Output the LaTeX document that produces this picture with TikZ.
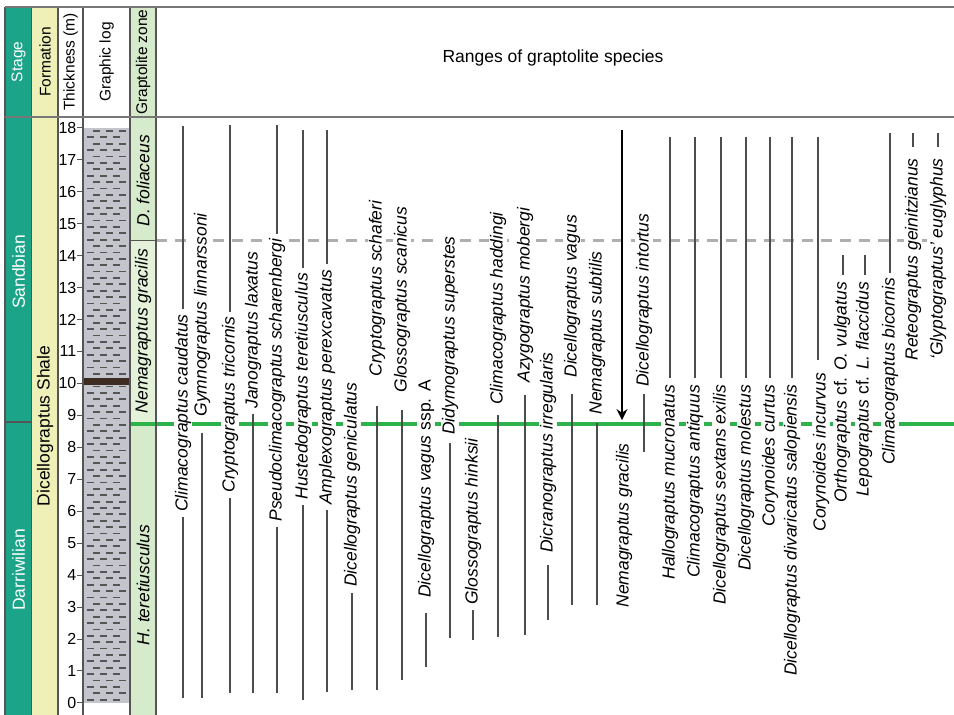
\documentclass[tikz,border=0pt]{standalone}
\usepackage{fontspec}
\setmainfont{Liberation Sans}
\usetikzlibrary{arrows.meta}
\definecolor{stagegreen}{HTML}{1BA488}
\definecolor{fmyellow}{HTML}{EEF0B8}
\definecolor{zonegreen}{HTML}{D6EBCB}
\definecolor{zonepale}{HTML}{E4F2D9}
\definecolor{loggrey}{HTML}{C4C4CC}
\definecolor{bandbrown}{HTML}{3E2C22}
\definecolor{bndgreen}{HTML}{2DB34A}
\definecolor{bndgrey}{HTML}{AFAFAF}
\definecolor{border}{HTML}{555555}
\definecolor{rangeline}{HTML}{4D4D4D}
\begin{document}
\begin{tikzpicture}[x=1pt, y=31.95pt,
    frm/.style={draw=border, line width=1.3pt},
    hd/.style={rotate=90, inner sep=1pt, font=\fontsize{15.5}{18}\selectfont},
    nm/.style={rotate=90, inner sep=1pt, font=\fontsize{17.5}{20}\selectfont},
    lbl/.style={rotate=90, fill=white, inner xsep=5pt, inner ysep=1pt, font=\fontsize{17.5}{20}\selectfont\itshape},
    rng/.style={draw=rangeline, line width=1.4pt},
    logdash/.style={draw=border, line width=1.8pt}
  ]
  \useasboundingbox (0,-0.376) rectangle (954,22.0);

  % column fills
  \fill[stagegreen] (5,-0.376) rectangle (31.5,21.78);
  \fill[fmyellow] (31.5,-0.376) rectangle (58,21.78);
  \fill[zonegreen] (130,14.46) rectangle (156,21.78);
  \fill[zonepale] (130,8.73) rectangle (156,14.46);
  \fill[zonegreen] (130,-0.376) rectangle (156,8.73);

  % graphic log
  \fill[loggrey] (83,0) rectangle (130,18);
  \foreach \r in {0,...,89} {
    \pgfmathsetmacro\off{mod(\r,2)*6.5}
    \foreach \c in {90,103,116}
      \draw[logdash] ({\c+\off-3.5},{0.1+0.2*\r}) -- ++(7,0);
  }
  \fill[bandbrown] (83,9.95) rectangle (130,10.17);

  % thickness scale
  \foreach \m in {0,...,18} {
    \draw[draw=border, line width=0.9pt] (77,\m) -- (83,\m);
    \node[anchor=east, inner sep=0.5pt, font=\fontsize{16}{18}\selectfont] (t\m) at (77,\m) {\m};
  }

  % zone boundaries
  \draw[line width=4.5pt, bndgreen] (130,8.73) -- (954,8.73);
  \draw[line width=2.8pt, bndgrey, dash pattern=on 11pt off 8pt] (156,14.46) -- (954,14.46);
  \draw[draw=border, line width=0.8pt] (130,14.46) -- (156,14.46);

  % frame
  \foreach \x in {5,31.5,58,83,130,156}
    \draw[frm] (\x,-0.376) -- (\x,21.78);
  \draw[frm, draw=border!80] (5,21.78) -- (954,21.78);
  \draw[frm, draw=border!80] (5,18.34) -- (954,18.34);
  \draw[frm] (5,8.79) -- (31.5,8.79);

  % ranges
  \foreach \x/\lo/\hi in {183/0.16/18.06, 202/0.16/8.45, 230/0.31/18.09,
      253/0.31/9.08, 277/0.31/18.09, 303/0.09/17.93, 327/0.34/17.93,
      352/0.41/3.44, 377/0.41/9.30, 402/0.72/9.17, 426/1.13/2.82,
      450/2.03/8.14, 473/1.97/2.91, 498/2.07/9.01, 525/2.13/9.64,
      548/2.60/4.32, 572/3.07/9.67, 597/3.07/8.75, 644/7.85/9.67,
      670/10.17/17.72, 695/10.17/17.72, 721/10.17/17.72, 746/10.17/17.72,
      770/10.17/17.72, 792/10.17/17.72, 818/10.73/17.72, 843/13.40/14.02,
      865/13.40/14.02, 890/13.46/17.84, 913/17.40/17.84, 938/17.40/17.84}
    \draw[rng] (\x,\lo) -- (\x,\hi);

  \coordinate (ngtop) at (622,17.93);
  \coordinate (ngbase) at (622,8.85);
  \draw[-{Stealth[length=11pt,width=11pt]}, line width=2pt] (ngtop) -- (ngbase);

  % species names
  \foreach \x/\y/\a/\t [count=\i] in {
      183/5.82/west/Climacograptus caudatus,
      202/8.80/west/Gymnograptus linnarssoni,
      230/6.42/west/Cryptograptus tricornis,
      253/9.05/west/Janograptus laxatus,
      277/5.51/west/Pseudoclimacograptus scharenbergi,
      303/6.20/west/Hustedograptus teretiusculus,
      327/6.04/west/Amplexograptus perexcavatus,
      352/3.47/west/Dicellograptus geniculatus,
      377/10.05/west/Cryptograptus schaferi,
      402/9.55/west/Glossograptus scanicus,
      426/3.13/west/Dicellograptus vagus \textup{ssp. A},
      450/8.23/west/Didymograptus superstes,
      473/2.91/west/Glossograptus hinksii,
      498/9.17/west/Climacograptus haddingi,
      525/9.86/west/Azygograptus mobergi,
      548/4.54/west/Dicranograptus irregularis,
      572/10.02/west/Dicellograptus vagus,
      597/8.86/west/Nemagraptus subtilis,
      624/2.82/west/Nemagraptus gracilis,
      644/9.73/west/Dicellograptus intortus,
      670/10.11/east/Hallograptus mucronatus,
      695/10.11/east/Climacograptus antiquus,
      721/10.11/east/Dicellograptus sextans exilis,
      746/10.11/east/Dicellograptus molestus,
      770/10.11/east/Corynoides curtus,
      792/10.11/east/Dicellograptus divaricatus salopiensis,
      821/10.49/east/Corynoides incurvus,
      842/13.33/east/Orthograptus \textup{cf.} O. vulgatus,
      864/13.33/east/Lepograptus \textup{cf.} L. flaccidus,
      890/13.46/east/Climacograptus bicornis,
      913/17.21/east/Reteograptus geinitzianus,
      938/17.21/east/‘Glyptograptus’ euglyphus}
    \node[lbl, anchor=\a] (sp\i) at (\x,\y) {\t};

  % headers
  \node[hd, text=white] (hstage) at (18.5,20.06) {Stage};
  \node[hd] (hform) at (45,20.06) {Formation};
  \node[hd] (hthick) at (70.5,20.06) {Thickness (m)};
  \node[hd] (hlog) at (106.5,20.06) {Graphic log};
  \node[hd] (hzone) at (143,20.06) {Graptolite zone};
  \node[font=\fontsize{17.5}{20}\selectfont] (hrange) at (553,20.19) {Ranges of graptolite species};

  % stages, formation, zones
  \node[nm, text=white] (sandb) at (18.5,13.49) {Sandbian};
  \node[nm, text=white] (darri) at (18.5,4.16) {Darriwilian};
  \node[nm] (dshale) at (45,8.67) {Dicellograptus Shale};
  \node[nm, font=\fontsize{17.5}{20}\selectfont\itshape] (zfol) at (143,16.34) {D. foliaceus};
  \node[nm, font=\fontsize{17.5}{20}\selectfont\itshape] (zgra) at (143,11.64) {Nemagraptus gracilis};
  \node[nm, font=\fontsize{17.5}{20}\selectfont\itshape] (zter) at (143,3.69) {H. teretiusculus};
\end{tikzpicture}
\end{document}
